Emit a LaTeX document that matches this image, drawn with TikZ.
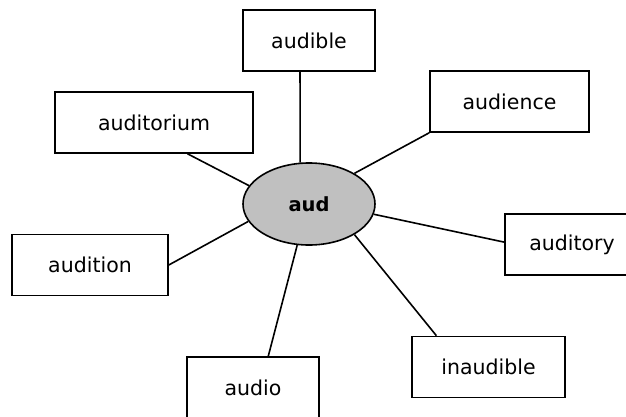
\documentclass[tikz,border=0pt]{standalone}
\usepackage{fontspec}
\setmainfont{DejaVu Sans}
\usetikzlibrary{shapes.geometric}
\definecolor{rootgray}{RGB}{192,192,192}

\begin{document}
\begin{tikzpicture} [x = 1pt, y = -1pt, line width = 1.6pt,
  word/.style = {draw, rectangle, minimum height = 61pt, inner sep = 0pt, font = \fontsize{20.5}{24}\selectfont},
  root/.style = {draw, ellipse, fill = rootgray, minimum width = 132pt, minimum height = 82pt, inner sep = 0pt, font = \fontsize{19.5}{23}\selectfont\bfseries}]
\clip (0,0) rectangle (626,417);
\node[word, minimum width = 198pt] (auditorium) at (154,122.5) {auditorium};
\node[word, minimum width = 132pt] (audible) at (309,40.5) {audible};
\node[word, minimum width = 159pt] (audience) at (509.5,101.5) {audience};
\node[word, minimum width = 134pt] (auditory) at (572,244.5) {auditory};
\node[word, minimum width = 153pt] (inaudible) at (488.5,367) {inaudible};
\node[word, minimum width = 132pt] (audio) at (253,387.5) {audio};
\node[word, minimum width = 156pt] (audition) at (90,265) {audition};
\node[root] (aud) at (309,204) {aud};
\draw (aud.163) -- (auditorium.-43);
\draw (aud.102) -- (audible.-106);
\draw (aud.34) -- (audience.south west);
\draw (aud.-9) -- (auditory.178);
\draw (aud.-34) -- (inaudible.149);
\draw (aud.-106) -- (audio.64);
\draw (aud.196) -- (audition.east);
\end{tikzpicture}
\end{document}
